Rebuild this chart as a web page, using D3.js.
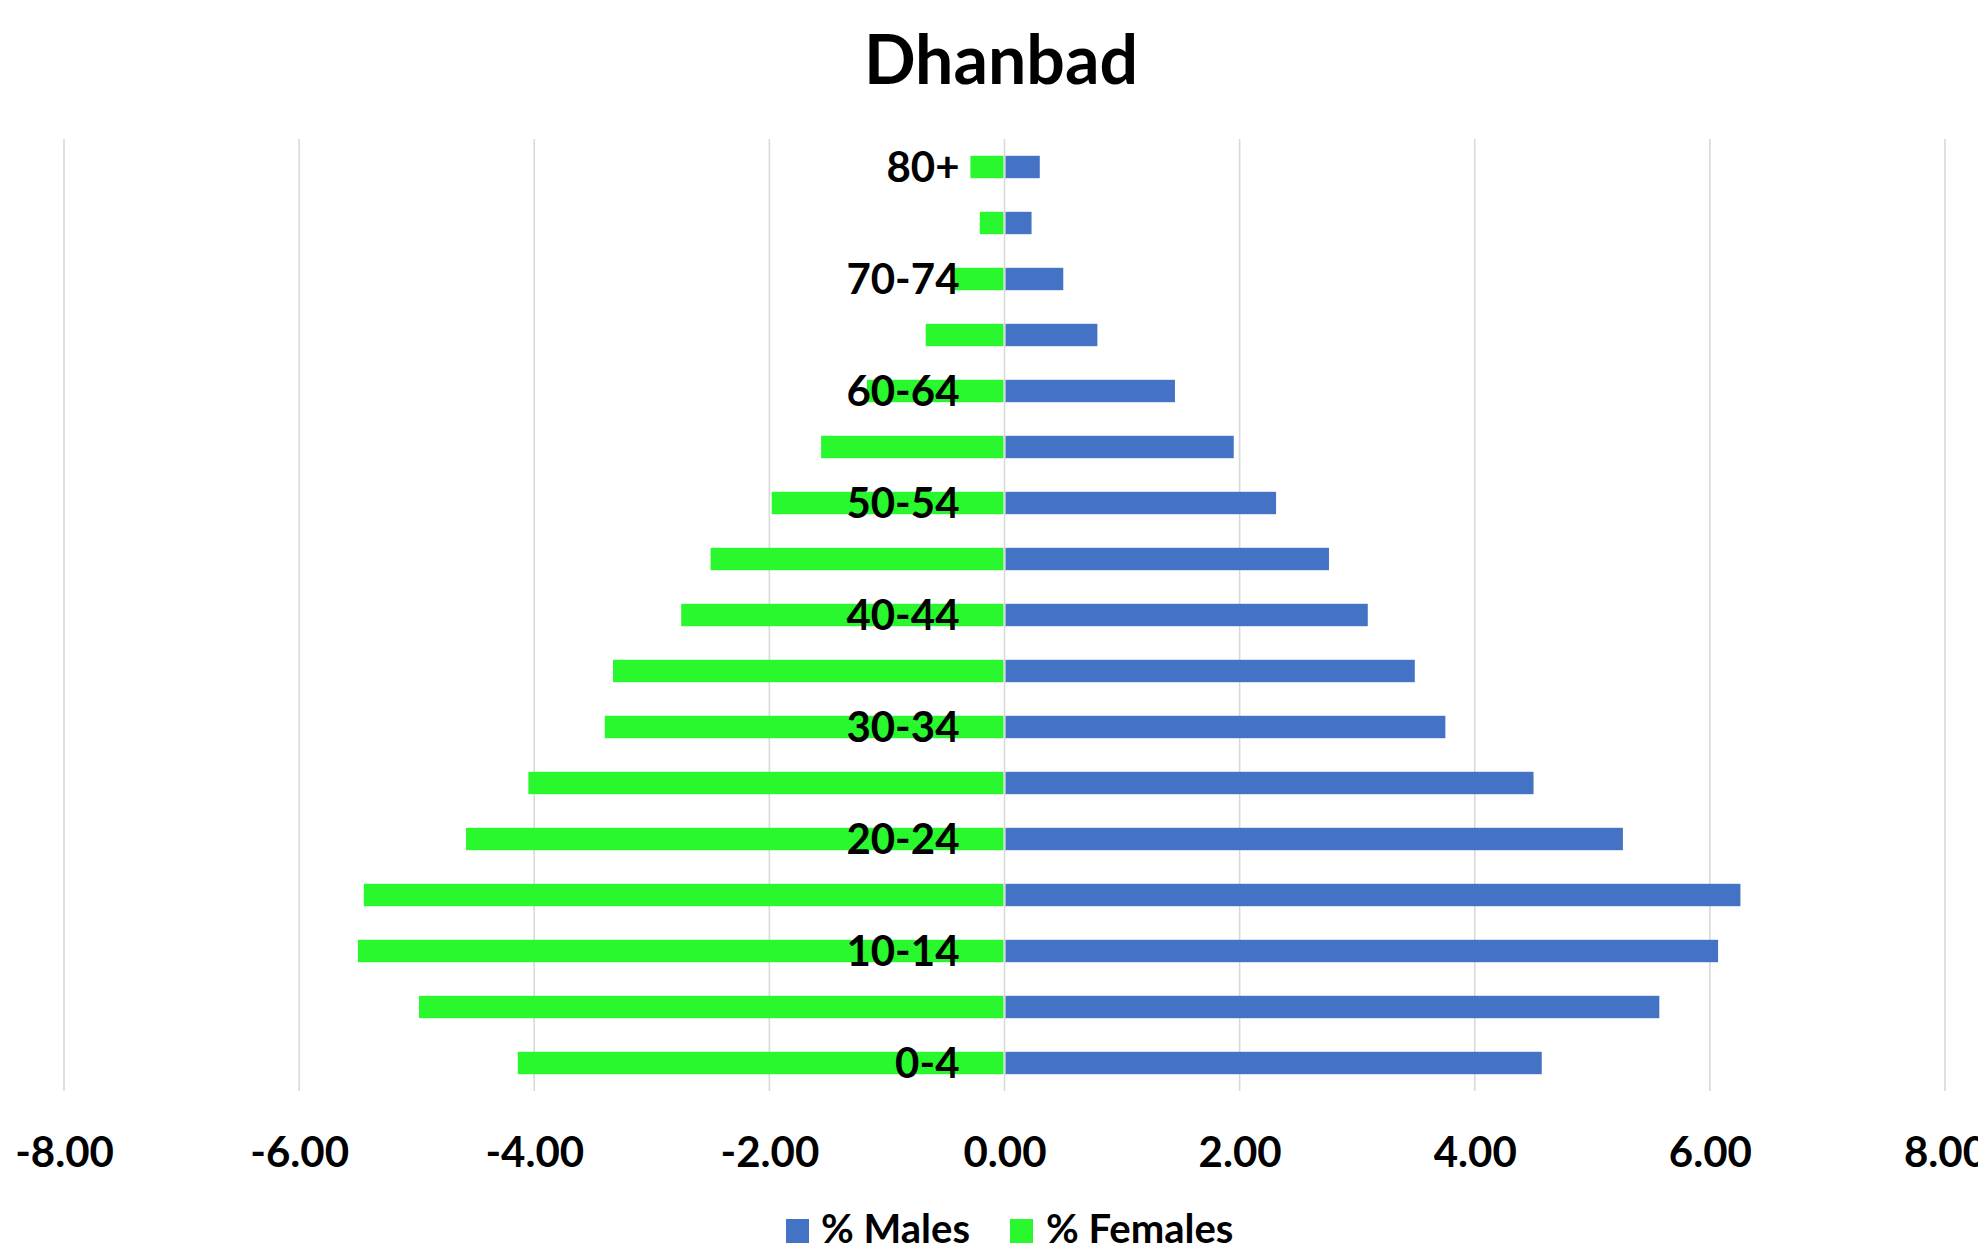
<!DOCTYPE html>
<html>
<head>
<meta charset="utf-8">
<script src="https://cdn.jsdelivr.net/npm/d3@7"></script>
<style>
  html, body { margin: 0; padding: 0; background: #fff; }
  svg { display: block; font-family: Lato, "Open Sans", sans-serif; }
</style>
</head>
<body>
<svg id="chart" width="1978" height="1254"></svg>
<script>
// ---- data ----
const title = "Dhanbad";
const ageGroups = ["80+", "75-79", "70-74", "65-69", "60-64", "55-59", "50-54", "45-49",
                   "40-44", "35-39", "30-34", "25-29", "20-24", "15-19", "10-14", "5-9", "0-4"];
const ageLabels = ["80+", "", "70-74", "", "60-64", "", "50-54", "",
                   "40-44", "", "30-34", "", "20-24", "", "10-14", "", "0-4"];
const malesPct = [0.30, 0.23, 0.50, 0.79, 1.45, 1.95, 2.31, 2.76,
                  3.09, 3.49, 3.75, 4.50, 5.26, 6.26, 6.07, 5.57, 4.57];
const femalesPct = [-0.29, -0.21, -0.44, -0.67, -1.17, -1.56, -1.98, -2.50,
                    -2.75, -3.33, -3.40, -4.05, -4.58, -5.45, -5.50, -4.98, -4.14];
const xTicks = [-8, -6, -4, -2, 0, 2, 4, 6, 8];
const seriesNames = ["% Males", "% Females"];
const seriesColors = ["#4472C4", "#29F82F"];

// ---- layout ----
const svg = d3.select("#chart");
const plot = { left: 64, right: 1945, top: 139, bottom: 1091 };

const x = d3.scaleLinear().domain([-8, 8]).range([plot.left, plot.right]);
const y = d3.scaleBand().domain(ageGroups).range([plot.top, plot.bottom])
  .paddingInner(0.6).paddingOuter(0.3);

// title
svg.append("text")
  .attr("x", 1001).attr("y", 84)
  .attr("text-anchor", "middle")
  .style("font-size", "68px").style("font-weight", 700).style("fill", "#000")
  .text(title);

// gridlines
svg.append("g").selectAll("line").data(xTicks).join("line")
  .attr("x1", d => x(d)).attr("x2", d => x(d))
  .attr("y1", plot.top).attr("y2", plot.bottom)
  .attr("stroke", "#D9D9D9").attr("stroke-width", 1.6);

// bars
const rows = ageGroups.map((g, i) => ({ g, m: malesPct[i], f: femalesPct[i] }));
svg.append("g").selectAll("rect").data(rows).join("rect")
  .attr("x", d => x(0) + 1)
  .attr("y", d => y(d.g))
  .attr("width", d => x(d.m) - x(0) - 1)
  .attr("height", y.bandwidth())
  .attr("fill", seriesColors[0]);
svg.append("g").selectAll("rect").data(rows).join("rect")
  .attr("x", d => x(d.f))
  .attr("y", d => y(d.g))
  .attr("width", d => x(0) - x(d.f) - 1)
  .attr("height", y.bandwidth())
  .attr("fill", seriesColors[1]);

// category labels
svg.append("g").selectAll("text").data(ageGroups).join("text")
  .attr("x", x(0) - 45)
  .attr("y", d => y(d) + y.bandwidth() / 2)
  .attr("dy", "0.36em")
  .attr("text-anchor", "end")
  .style("font-size", "42px").style("font-weight", 700).style("fill", "#000")
  .text((d, i) => ageLabels[i]);

// x axis tick labels
const xAxis = d3.axisBottom(x).tickValues(xTicks).tickFormat(d => d.toFixed(2)).tickSize(0).tickPadding(0);
const gx = svg.append("g").attr("transform", `translate(0,1167)`).call(xAxis);
gx.select(".domain").remove();
gx.selectAll("text")
  .attr("y", 0).attr("dy", 0)
  .style("font-family", "Lato, 'Open Sans', sans-serif")
  .style("font-size", "42px").style("font-weight", 700).style("fill", "#000");

// legend
const legendItems = [
  { name: seriesNames[0], color: seriesColors[0], sx: 786, tx: 821 },
  { name: seriesNames[1], color: seriesColors[1], sx: 1010, tx: 1046 }
];
const lg = svg.append("g");
lg.selectAll("rect").data(legendItems).join("rect")
  .attr("x", d => d.sx).attr("y", 1219).attr("width", 23).attr("height", 24)
  .attr("fill", d => d.color);
lg.selectAll("text").data(legendItems).join("text")
  .attr("x", d => d.tx).attr("y", 1243)
  .style("font-size", "40px").style("font-weight", 700).style("fill", "#000")
  .text(d => d.name);
</script>
</body>
</html>
